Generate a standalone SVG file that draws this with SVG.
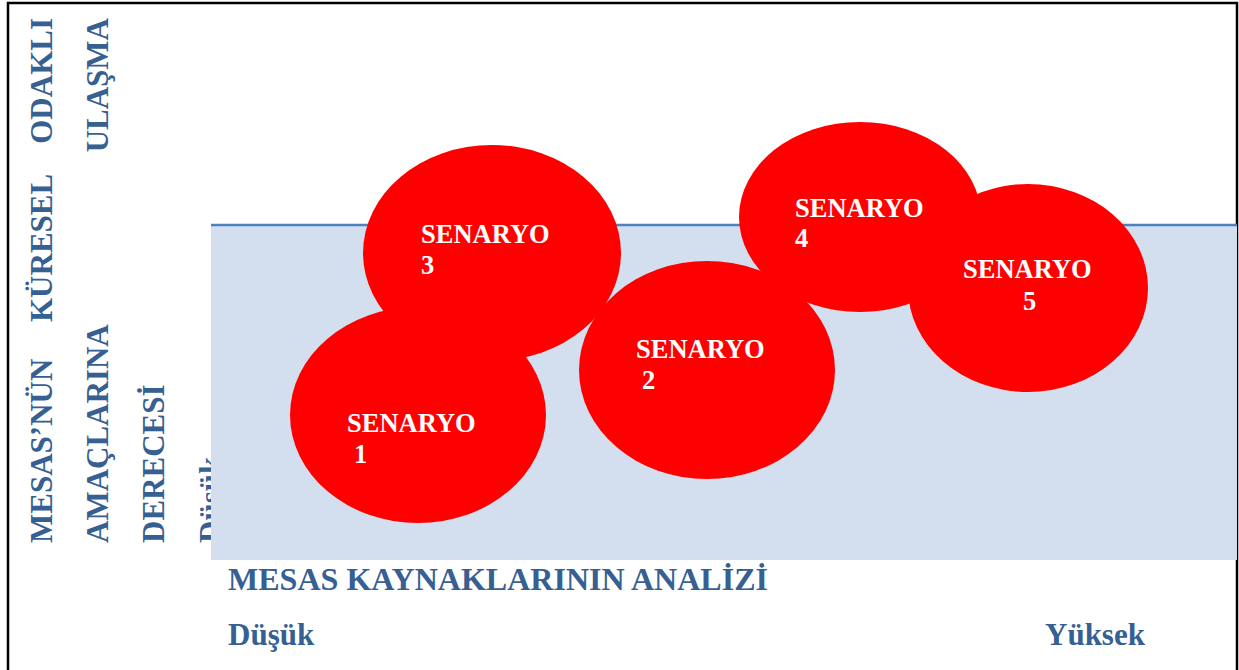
<svg xmlns="http://www.w3.org/2000/svg" width="1239" height="670" viewBox="0 0 1239 670">
<style>
.ax{font-family:"Liberation Serif","Times New Roman",serif;font-weight:bold;font-size:31px;fill:#376092}
.sc{font-family:"Liberation Serif","Times New Roman",serif;font-weight:bold;font-size:26.5px;fill:#ffffff}
.el{fill:#ff0000}
</style>
<rect width="1239" height="670" fill="#ffffff"/>
<g id="frame"><path d="M8,675 V3 H1237 V675" fill="none" stroke="#000" stroke-width="2.5"/></g>
<g id="y-axis-label">
<text class="ax" transform="translate(52,543) rotate(-90)">MESAS’NÜN</text>
<text class="ax" transform="translate(52,322) rotate(-90)">KÜRESEL</text>
<text class="ax" text-anchor="end" transform="translate(52,18) rotate(-90)">ODAKLI</text>
<text class="ax" transform="translate(108,543) rotate(-90)">AMAÇLARINA</text>
<text class="ax" text-anchor="end" transform="translate(108,18) rotate(-90)">ULAŞMA</text>
<text class="ax" transform="translate(164,543) rotate(-90)">DERECESİ</text>
<text class="ax" transform="translate(221,543) rotate(-90)">Düşük</text>
</g>
<g id="area">
<rect x="211" y="225" width="1026" height="335" fill="#d3dfee"/>
<line x1="211" y1="225" x2="1237" y2="225" stroke="#4f81bd" stroke-width="2.5"/>
</g>
<g id="x-axis-label">
<text class="ax" x="228" y="590" textLength="540" lengthAdjust="spacingAndGlyphs">MESAS KAYNAKLARININ ANALİZİ</text>
<text class="ax" x="228" y="645">Düşük</text>
<text class="ax" x="1045" y="645">Yüksek</text>
</g>
<g id="senaryo3"><ellipse class="el" cx="492" cy="253" rx="129" ry="108"/><text class="sc" x="421" y="243">SENARYO</text><text class="sc" x="421" y="274">3</text></g>
<g id="senaryo1"><ellipse class="el" cx="418" cy="415" rx="128" ry="108"/><text class="sc" x="347" y="432">SENARYO</text><text class="sc" x="354" y="463">1</text></g>
<g id="senaryo2"><ellipse class="el" cx="707" cy="370" rx="128" ry="109"/><text class="sc" x="636" y="358">SENARYO</text><text class="sc" x="642" y="389">2</text></g>
<g id="senaryo4"><ellipse class="el" cx="860" cy="217" rx="121" ry="95"/><text class="sc" x="795" y="217">SENARYO</text><text class="sc" x="795" y="247">4</text></g>
<g id="senaryo5"><ellipse class="el" cx="1028" cy="288" rx="120" ry="104"/><text class="sc" x="963" y="278">SENARYO</text><text class="sc" x="1023" y="310">5</text></g>
<g id="connectors"/>
</svg>
